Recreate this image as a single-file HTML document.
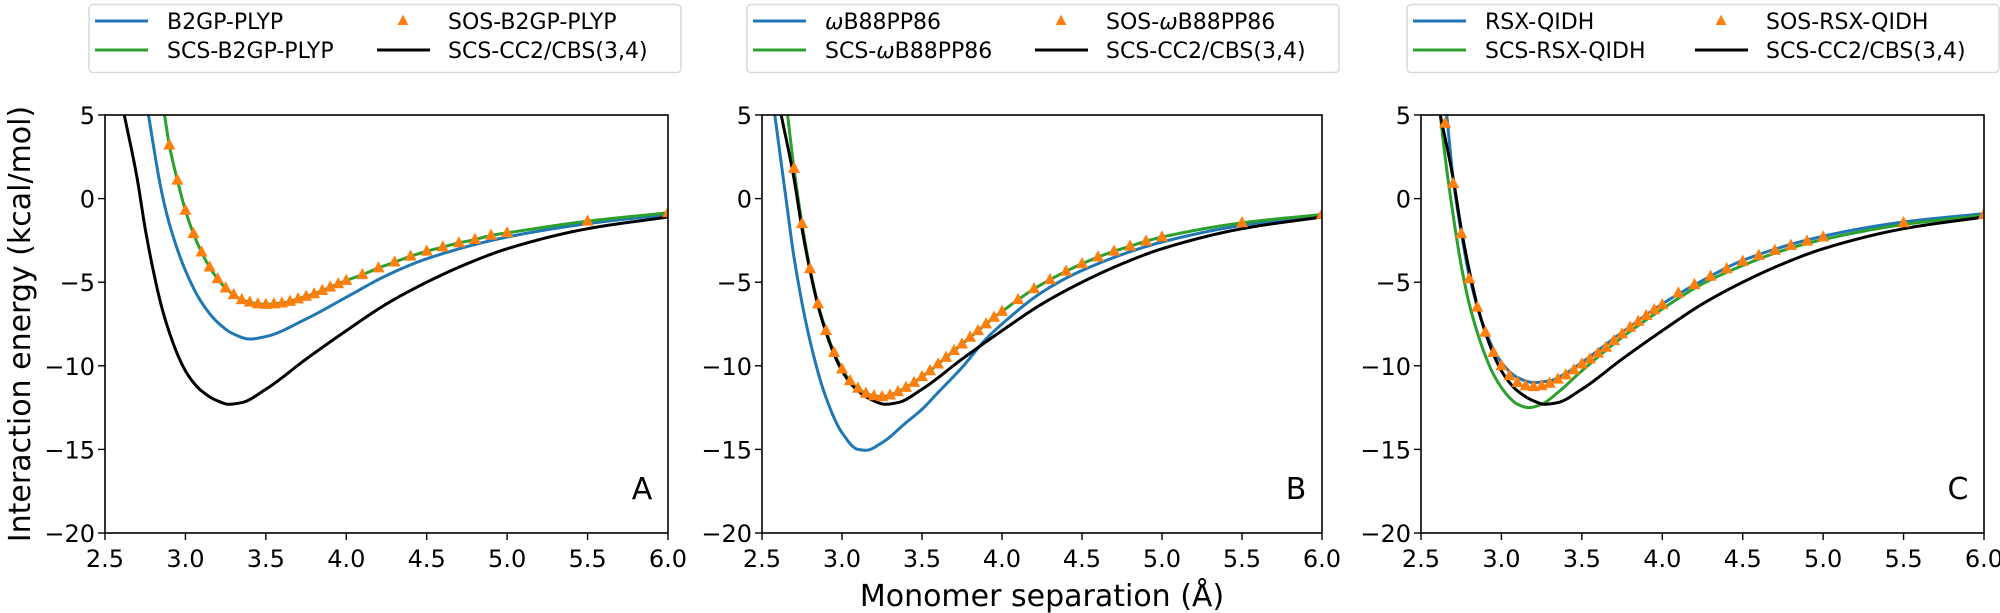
<!DOCTYPE html>
<html><head><meta charset="utf-8"><style>
html,body{margin:0;padding:0;background:#fff}
svg{display:block;font-family:"DejaVu Sans","Liberation Sans",sans-serif}
</style></head><body>
<svg id="fig" width="2000" height="613" viewBox="0 0 2000 613" xmlns="http://www.w3.org/2000/svg"></svg>
<script>
const xTicks=[2.5,3.0,3.5,4.0,4.5,5.0,5.5,6.0];
const yTicks=[5,0,-5,-10,-15,-20];
const xTickLabels=["2.5","3.0","3.5","4.0","4.5","5.0","5.5","6.0"];
const yTickLabels=["5","0","\u22125","\u221210","\u221215","\u221220"];
// Reference SCS-CC2/CBS(3,4)
const refX=[2.62,2.7,2.75,2.8,2.85,2.9,2.95,3.0,3.05,3.1,3.2,3.27,3.35,3.5,3.75,4.0,4.25,4.5,4.75,5.0,5.5,6.0];
const refY=[5,1.2,-1.8,-4.3,-6.4,-8.0,-9.3,-10.3,-11.0,-11.5,-12.1,-12.3,-12.2,-11.4,-9.6,-7.9,-6.3,-5.0,-3.9,-3.0,-1.8,-1.1];
// Panel A
const aBlueX=[2.77,2.85,2.9,3.0,3.1,3.2,3.3,3.4,3.5,3.75,4.0,4.25,4.5,5.0,5.5,6.0];
const aBlueY=[5,0.5,-1.5,-4.3,-6.2,-7.4,-8.1,-8.4,-8.25,-7.2,-5.9,-4.6,-3.6,-2.3,-1.5,-0.95];
const aGreenX=[2.87,2.9,2.95,3.0,3.05,3.1,3.15,3.2,3.25,3.3,3.35,3.4,3.45,3.5,3.55,3.6,3.65,3.7,3.75,3.8,3.85,3.9,3.95,4.0,4.1,4.2,4.3,4.4,4.5,4.6,4.7,4.8,4.9,5.0,5.5,6.0];
const aGreenY=[5,3.2,1.1,-0.7,-2.1,-3.2,-4.1,-4.8,-5.35,-5.75,-6.05,-6.2,-6.3,-6.33,-6.3,-6.25,-6.15,-6.0,-5.85,-5.7,-5.5,-5.3,-5.1,-4.9,-4.55,-4.15,-3.8,-3.45,-3.15,-2.9,-2.65,-2.45,-2.2,-2.05,-1.35,-0.85];
const aSosX=[2.9,2.95,3.0,3.05,3.1,3.15,3.2,3.25,3.3,3.35,3.4,3.45,3.5,3.55,3.6,3.65,3.7,3.75,3.8,3.85,3.9,3.95,4.0,4.1,4.2,4.3,4.4,4.5,4.6,4.7,4.8,4.9,5.0,5.5,6.0];
const aSosY=[3.2,1.1,-0.7,-2.1,-3.2,-4.1,-4.8,-5.35,-5.75,-6.05,-6.2,-6.3,-6.33,-6.3,-6.25,-6.15,-6.0,-5.85,-5.7,-5.5,-5.3,-5.1,-4.9,-4.55,-4.15,-3.8,-3.45,-3.15,-2.9,-2.65,-2.45,-2.2,-2.05,-1.35,-0.85];
// Panel B
const bBlueX=[2.58,2.65,2.7,2.8,2.9,3.0,3.1,3.15,3.25,3.4,3.5,3.6,3.75,3.9,4.0,4.25,4.5,5.0,5.5,6.0];
const bBlueY=[5,0,-3.5,-8.5,-11.9,-14.0,-15.0,-15.05,-14.6,-13.4,-12.6,-11.6,-10.1,-8.4,-7.5,-5.6,-4.3,-2.6,-1.6,-1.0];
const bGreenX=[2.66,2.7,2.75,2.8,2.85,2.9,2.95,3.0,3.05,3.1,3.15,3.2,3.25,3.3,3.35,3.4,3.45,3.5,3.55,3.6,3.65,3.7,3.75,3.8,3.85,3.9,3.95,4.0,4.1,4.2,4.3,4.4,4.5,4.6,4.7,4.8,4.9,5.0,5.5,6.0];
const bGreenY=[5,1.8,-1.5,-4.2,-6.3,-7.9,-9.2,-10.2,-10.9,-11.35,-11.65,-11.8,-11.85,-11.75,-11.55,-11.3,-11.0,-10.65,-10.3,-9.9,-9.5,-9.1,-8.7,-8.3,-7.9,-7.5,-7.1,-6.75,-6.05,-5.4,-4.85,-4.35,-3.9,-3.5,-3.15,-2.85,-2.55,-2.3,-1.45,-0.95];
const bSosX=[2.7,2.75,2.8,2.85,2.9,2.95,3.0,3.05,3.1,3.15,3.2,3.25,3.3,3.35,3.4,3.45,3.5,3.55,3.6,3.65,3.7,3.75,3.8,3.85,3.9,3.95,4.0,4.1,4.2,4.3,4.4,4.5,4.6,4.7,4.8,4.9,5.0,5.5,6.0];
const bSosY=[1.8,-1.5,-4.2,-6.3,-7.9,-9.2,-10.2,-10.9,-11.35,-11.65,-11.8,-11.85,-11.75,-11.55,-11.3,-11.0,-10.65,-10.3,-9.9,-9.5,-9.1,-8.7,-8.3,-7.9,-7.5,-7.1,-6.75,-6.05,-5.4,-4.85,-4.35,-3.9,-3.5,-3.15,-2.85,-2.55,-2.3,-1.45,-0.95];
// Panel C
const cBlueX=[2.66,2.7,2.75,2.8,2.9,3.0,3.1,3.2,3.3,3.4,3.5,3.75,4.0,4.25,4.5,5.0,5.5,6.0];
const cBlueY=[5,1.2,-2,-4.6,-7.9,-9.8,-10.7,-11.0,-10.9,-10.45,-9.8,-8.0,-6.3,-4.9,-3.7,-2.25,-1.4,-0.9];
const cGreenX=[2.62,2.65,2.7,2.75,2.8,2.85,2.9,2.95,3.0,3.05,3.1,3.17,3.25,3.35,3.5,3.75,4.0,4.25,4.5,4.75,5.0,5.5,6.0];
const cGreenY=[5,2.5,-1,-4,-6.3,-8.0,-9.4,-10.5,-11.3,-11.9,-12.3,-12.5,-12.3,-11.6,-10.3,-8.3,-6.6,-5.1,-4.0,-3.1,-2.45,-1.55,-1.0];
const cSosX=[2.65,2.7,2.75,2.8,2.85,2.9,2.95,3.0,3.05,3.1,3.15,3.2,3.25,3.3,3.35,3.4,3.45,3.5,3.55,3.6,3.65,3.7,3.75,3.8,3.85,3.9,3.95,4.0,4.1,4.2,4.3,4.4,4.5,4.6,4.7,4.8,4.9,5.0,5.5,6.0];
const cSosY=[4.5,0.9,-2.1,-4.8,-6.5,-8.0,-9.2,-10.0,-10.6,-11.0,-11.2,-11.25,-11.2,-11.05,-10.8,-10.55,-10.25,-9.9,-9.6,-9.25,-8.9,-8.5,-8.1,-7.7,-7.35,-7.0,-6.65,-6.35,-5.65,-5.15,-4.65,-4.2,-3.75,-3.4,-3.1,-2.8,-2.55,-2.3,-1.45,-0.95];

const NS="http://www.w3.org/2000/svg";
const svg=document.getElementById('fig');
function mk(tag,attrs,parent){const e=document.createElementNS(NS,tag);for(const k in attrs)e.setAttribute(k,attrs[k]);(parent||svg).appendChild(e);return e;}
const TOP=115,BOT=533,XMIN=2.5,XMAX=6.0,YMIN=-20,YMAX=5;
const BLUE="#1f77b4",GREEN="#2ca02c",ORANGE="#ff7f0e";

// Monotone cubic (Fritsch-Carlson) interpolation, sampled densely
function monoPath(xs,ys,fx,fy){
  const n=xs.length,d=[],m=new Array(n);
  for(let i=0;i<n-1;i++)d.push((ys[i+1]-ys[i])/(xs[i+1]-xs[i]));
  m[0]=d[0];m[n-1]=d[n-2];
  for(let i=1;i<n-1;i++){
    if(d[i-1]*d[i]<=0)m[i]=0;
    else{const h0=xs[i]-xs[i-1],h1=xs[i+1]-xs[i];const w1=2*h1+h0,w2=h1+2*h0;m[i]=(w1+w2)/(w1/d[i-1]+w2/d[i]);}
  }
  let p="M"+fx(xs[0]).toFixed(2)+","+fy(ys[0]).toFixed(2);
  for(let i=0;i<n-1;i++){
    const h=xs[i+1]-xs[i],steps=Math.max(4,Math.ceil(h/0.004));
    for(let k=1;k<=steps;k++){
      const t=k/steps,t2=t*t,t3=t2*t;
      const y=(2*t3-3*t2+1)*ys[i]+(t3-2*t2+t)*h*m[i]+(-2*t3+3*t2)*ys[i+1]+(t3-t2)*h*m[i+1];
      p+=" L"+fx(xs[i]+t*h).toFixed(2)+","+fy(y).toFixed(2);
    }
  }
  return p;
}
function tri(cx,cy,s){return `M${cx},${cy-s*0.62} L${cx+s*0.55},${cy+s*0.4} L${cx-s*0.55},${cy+s*0.4} Z`;}

function panel(id,L,R,letter,series,names){
  const g=mk('g',{});
  
  
  const fx=x=>L+(x-XMIN)/(XMAX-XMIN)*(R-L);
  const fy=y=>TOP+(YMAX-y)/(YMAX-YMIN)*(BOT-TOP);
  const cp=mk('clipPath',{id:'clip'+id},g);
  mk('rect',{x:L,y:TOP,width:R-L,height:BOT-TOP},cp);
  const pg=mk('g',{'clip-path':`url(#clip${id})`},g);
  
  
  const l1=mk('path',{d:monoPath(series.bx,series.by,fx,fy),fill:'none',stroke:BLUE,'stroke-width':3,'stroke-linejoin':'round'},pg);
  
  
  const l2=mk('path',{d:monoPath(series.gx,series.gy,fx,fy),fill:'none',stroke:GREEN,'stroke-width':3,'stroke-linejoin':'round'},pg);
  
  
  const l3=mk('path',{d:monoPath(refX,refY,fx,fy),fill:'none',stroke:'#000','stroke-width':3,'stroke-linejoin':'round'},pg);
  
  
  series.sx.forEach((x,i)=>{
    const t=mk('path',{d:tri(fx(x),fy(series.sy[i]),11),fill:ORANGE},pg);
    
    
  });
  const fr=mk('rect',{x:L,y:TOP,width:R-L,height:BOT-TOP,fill:'none',stroke:'#000','stroke-width':1.6},g);
  
  
  xTicks.forEach((t,i)=>{
    mk('line',{x1:fx(t),x2:fx(t),y1:BOT,y2:BOT+7,stroke:'#000','stroke-width':1.4},g);
    const tx=mk('text',{x:fx(t),y:BOT+34,'font-size':24,'text-anchor':'middle'},g);
    tx.textContent=xTickLabels[i];
    
    
  });
  yTicks.forEach((t,i)=>{
    mk('line',{x1:L-7,x2:L,y1:fy(t),y2:fy(t),stroke:'#000','stroke-width':1.4},g);
    const ty=mk('text',{x:L-10,y:fy(t)+9,'font-size':24,'text-anchor':'end'},g);
    ty.textContent=yTickLabels[i];
    
    
  });
  const lt=mk('text',{x:R-26,y:BOT-34,'font-size':30,'text-anchor':'middle'},g);
  lt.textContent=letter;
  
  
}
function legend(id,X,labels){
  const g=mk('g',{});
  
  
  mk('rect',{x:X,y:4.5,width:592,height:68,rx:4,fill:'#fff',stroke:'#d9d9d9','stroke-width':1.5},g);
  const rows=[21,50];
  const ent=[[6,rows[0],'line',BLUE,labels[0]],[6,rows[1],'line',GREEN,labels[1]],[288,rows[0],'tri',ORANGE,labels[2]],[288,rows[1],'line','#000',labels[3]]];
  ent.forEach(e=>{
    const eg=mk('g',{},g);
    
    
    if(e[2]==='line') mk('line',{x1:X+e[0],x2:X+e[0]+53,y1:e[1],y2:e[1],stroke:e[3],'stroke-width':3},eg);
    else mk('path',{d:tri(X+e[0]+26,e[1],10),fill:e[3]},eg);
    const t=mk('text',{x:X+e[0]+(e[0]===6?72:71),y:e[1]+8,'font-size':22},eg);
    t.innerHTML=e[4];
  });
}
panel('a',105,668,'A',{bx:aBlueX,by:aBlueY,gx:aGreenX,gy:aGreenY,sx:aSosX,sy:aSosY},['b2gp-plyp','scs-b2gp-plyp','sos-b2gp-plyp']);
panel('b',762,1322,'B',{bx:bBlueX,by:bBlueY,gx:bGreenX,gy:bGreenY,sx:bSosX,sy:bSosY},['wb88pp86','scs-wb88pp86','sos-wb88pp86']);
panel('c',1421,1984,'C',{bx:cBlueX,by:cBlueY,gx:cGreenX,gy:cGreenY,sx:cSosX,sy:cSosY},['rsx-qidh','scs-rsx-qidh','sos-rsx-qidh']);
legend('a',89,['B2GP-PLYP','SCS-B2GP-PLYP','SOS-B2GP-PLYP','SCS-CC2/CBS(3,4)']);
legend('b',747,['<tspan font-style="italic">ω</tspan>B88PP86','SCS-<tspan font-style="italic">ω</tspan>B88PP86','SOS-<tspan font-style="italic">ω</tspan>B88PP86','SCS-CC2/CBS(3,4)']);
legend('c',1407,['RSX-QIDH','SCS-RSX-QIDH','SOS-RSX-QIDH','SCS-CC2/CBS(3,4)']);
const xl=mk('text',{x:1042,y:606,'font-size':30,'text-anchor':'middle'});
xl.textContent='Monomer separation (Å)';


const yl=mk('text',{x:0,y:0,'font-size':30,'text-anchor':'middle',transform:'translate(30,324) rotate(-90)'});
yl.textContent='Interaction energy (kcal/mol)';


</script>
</body></html>
